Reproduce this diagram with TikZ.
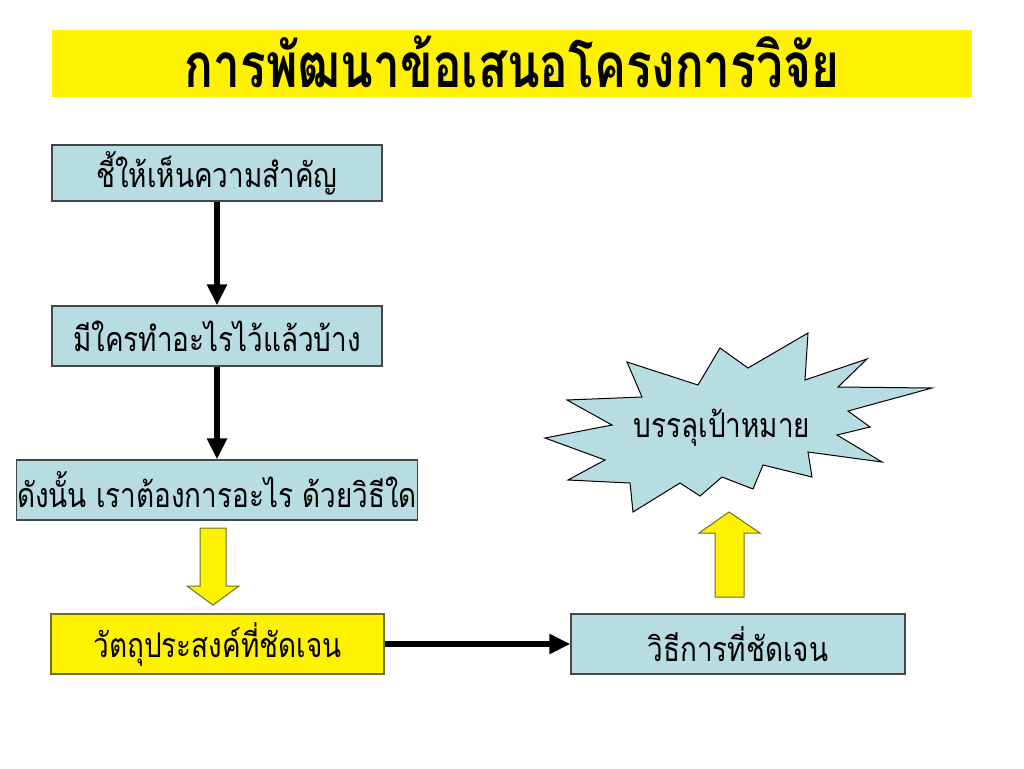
\documentclass[tikz,border=0pt]{standalone}
\usepackage{fontspec}
\usetikzlibrary{arrows.meta}
\newfontfamily\thai[Script=Thai,FakeStretch=0.82]{Loma}
\newfontfamily\thaititle[Script=Thai,FakeStretch=0.77]{Loma}
\definecolor{lblue}{RGB}{183,221,226}
\definecolor{bordergray}{RGB}{70,70,70}
\definecolor{yborder}{RGB}{110,110,40}
\begin{document}
\begin{tikzpicture}[x=1pt,y=-1pt,
  box/.style={draw=bordergray, line width=1.2pt, fill=lblue, inner sep=0pt,
    font=\thai\fontsize{34}{40}\selectfont},
  ybox/.style={box, fill=yellow, draw=yborder},
  conn/.style={line width=6pt, -{Triangle[length=21pt,width=19pt]}},
  blockarrow/.style={fill=yellow, draw=yborder, line width=1pt, line join=miter}]
\useasboundingbox (0,0) rectangle (1024,768);
\fill[white] (0,0) rectangle (1024,768);
% title band
\fill[yellow] (52,30) rectangle (972,97);
\node[font=\thaititle\bfseries\fontsize{62}{66}\selectfont] (title) at (512,62) {การพัฒนาข้อเสนอโครงการวิจัย};
% boxes
\node[box, minimum width=330pt, minimum height=56pt] (b1) at (217,173) {ชี้ให้เห็นความสำคัญ};
\node[box, minimum width=330pt, minimum height=60pt] (b2) at (217,336) {มีใครทำอะไรไว้แล้วบ้าง};
\node[box, minimum width=401pt, minimum height=60pt] (b3) at (217,490) {ดังนั้น เราต้องการอะไร ด้วยวิธีใด};
\node[ybox, minimum width=333pt, minimum height=60pt] (b4) at (217.5,644) {วัตถุประสงค์ที่ชัดเจน};
\node[box, minimum width=334pt, minimum height=60pt] (b5) at (738,644) {วิธีการที่ชัดเจน};
% connectors
\draw[conn] (b1) -- (b2);
\draw[conn] (b2) -- (b3);
\draw[conn] (b4) -- (b5);
% block arrows
\draw[blockarrow] (200,528) -- (226,528) -- (226,586) -- (239,586) -- (213,605) -- (187,586) -- (200,586) -- cycle;
\draw[blockarrow] (715,597) -- (744,597) -- (744,533) -- (760,533) -- (729,512) -- (699,533) -- (715,533) -- cycle;
% star
\draw[fill=lblue, draw=black, line width=1pt, line join=miter]
  (808,333) -- (805,380) -- (867,359) -- (838,387) -- (932,388) -- (848,411)
  -- (870,427) -- (837,435) -- (882,462) -- (808,452) -- (812,477) -- (763,465)
  -- (753,489) -- (722,477) -- (700,496) -- (680,483) -- (633,512) -- (630,483)
  -- (568,480) -- (605,460) -- (545,438) -- (612,425) -- (567,400) -- (642,397)
  -- (627,362) -- (698,385) -- (720,348) -- (748,368) -- cycle;
\node[font=\thai\fontsize{34}{40}\selectfont] (goal) at (722,428) {บรรลุเป้าหมาย};
\end{tikzpicture}
\end{document}
